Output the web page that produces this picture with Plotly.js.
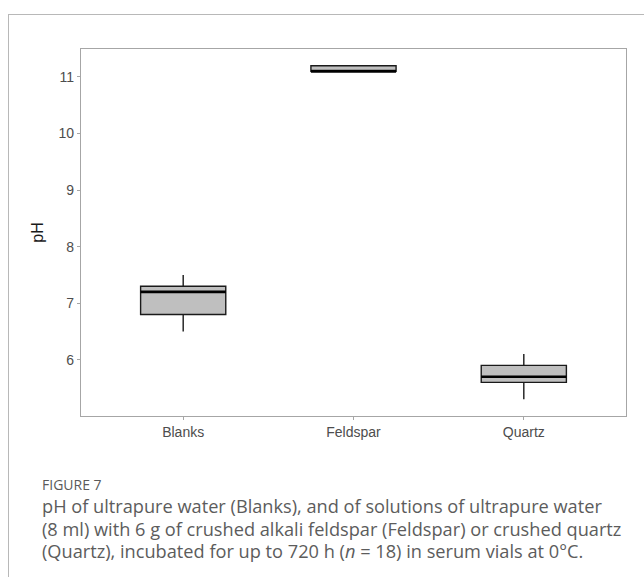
<!DOCTYPE html>
<html>
<head>
<meta charset="utf-8">
<script src="https://cdn.plot.ly/plotly-3.0.1.min.js"></script>
<style>
  html, body { margin: 0; padding: 0; background: #fff; }
  #wrap { position: relative; width: 644px; height: 577px; overflow: hidden; }
  #frame { position: absolute; left: 8px; top: 14px; width: 700px; height: 700px;
           border-left: 1px solid #b8b8b8; border-top: 1px solid #b8b8b8; }
  #chart { position: absolute; left: 0; top: 0; width: 644px; height: 460px; }
  #cap { position: absolute; left: 42px; top: 475px; width: 602px; white-space: nowrap;
         font-family: "Open Sans", sans-serif; color: #5c5c5c; }
  #cap .fig { font-size: 14px; line-height: 20px; color: #5a5a5a; }
  #cap .txt { font-size: 18.2px; line-height: 22.5px; font-weight: 400; }
</style>
</head>
<body>
<div id="wrap">
  <div id="frame"></div>
  <div id="chart"></div>
  <div id="cap">
    <div class="fig">FIGURE 7</div>
    <div class="txt">pH of ultrapure water (Blanks), and of solutions of ultrapure water<br>(8 ml) with 6 g of crushed alkali feldspar (Feldspar) or crushed quartz<br>(Quartz), incubated for up to 720 h (<i>n</i> = 18) in serum vials at 0°C.</div>
  </div>
</div>
<script>
const categories = ["Blanks", "Feldspar", "Quartz"];
const lowerWhisker = [6.5, 11.1, 5.3];
const q1Values = [6.8, 11.1, 5.6];
const medianValues = [7.2, 11.1, 5.7];
const q3Values = [7.3, 11.2, 5.9];
const upperWhisker = [7.5, 11.2, 6.1];
const yTicks = [6, 7, 8, 9, 10, 11];

const pos = categories.map((c, i) => i + 1);
const boxWidth = 0.5;

const boxTrace = {
  type: "box",
  x: pos,
  q1: q1Values,
  median: medianValues,
  q3: q3Values,
  lowerfence: lowerWhisker,
  upperfence: upperWhisker,
  width: boxWidth,
  whiskerwidth: 0,
  fillcolor: "#bfbfbf",
  line: { color: "#1a1a1a", width: 1.4 },
  hoverinfo: "skip",
  showlegend: false
};

// thicker median line (ggplot style), derived from data
const mx = [], my = [];
pos.forEach((p, i) => {
  mx.push(p - boxWidth / 2, p + boxWidth / 2, null);
  my.push(medianValues[i], medianValues[i], null);
});
const medianTrace = {
  type: "scatter", mode: "lines", x: mx, y: my,
  line: { color: "#000", width: 2.6 },
  hoverinfo: "skip", showlegend: false
};

const tickFont = { family: "Liberation Sans", size: 14, color: "#4d4d4d" };

const layout = {
  width: 644, height: 460,
  margin: { l: 81, r: 18, t: 49, b: 44 },
  paper_bgcolor: "rgba(0,0,0,0)",
  plot_bgcolor: "#fff",
  showlegend: false,
  xaxis: {
    range: [0.4, 3.6],
    tickvals: pos, ticktext: categories,
    showgrid: false, zeroline: false,
    showline: true, mirror: true, linecolor: "#a6a6a6", linewidth: 1.2,
    ticks: "outside", ticklen: 3, tickcolor: "#a6a6a6",
    tickfont: tickFont
  },
  yaxis: {
    range: [5.005, 11.495],
    tickvals: yTicks,
    showgrid: false, zeroline: false,
    showline: true, mirror: true, linecolor: "#a6a6a6", linewidth: 1.2,
    ticks: "outside", ticklen: 3, tickcolor: "#a6a6a6",
    tickfont: tickFont,
    title: { text: "pH", standoff: 10,
             font: { family: "Liberation Sans", size: 16, color: "#1a1a1a" } }
  }
};

Plotly.newPlot("chart", [boxTrace, medianTrace], layout, { staticPlot: true, displayModeBar: false });
</script>
</body>
</html>
